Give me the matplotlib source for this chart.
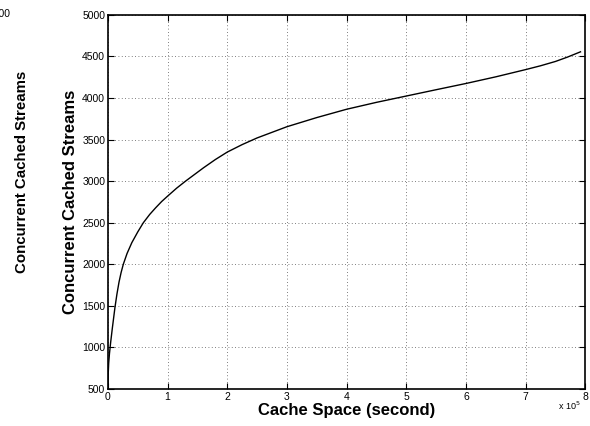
import matplotlib.pyplot as plt
from matplotlib.ticker import FuncFormatter, MultipleLocator

plt.rcParams['font.family'] = ['Liberation Sans', 'DejaVu Sans']

# Cache size (seconds of video) vs number of streams served from cache
cache_space = [0, 400, 1200, 2500, 4500, 7300, 11700, 15000, 18500, 22000,
               25700, 32000, 40000, 50000, 59300, 70000, 80000, 90000,
               100000, 115000, 130000, 160000, 180000, 200000, 225000,
               250000, 300000, 350000, 400000, 450000, 500000, 550000,
               600000, 650000, 700000, 725000, 750000, 770000, 792000]
cached_streams = [500, 680, 810, 925, 1060, 1230, 1480, 1640, 1785, 1900,
                  2000, 2130, 2260, 2390, 2500, 2600, 2680, 2755,
                  2820, 2915, 3000, 3160, 3260, 3350, 3440,
                  3520, 3655, 3765, 3865, 3948, 4024, 4100,
                  4175, 4255, 4342, 4388, 4440, 4492, 4556]

fig = plt.figure(figsize=(5.9, 4.26), dpi=100)
ax = fig.add_axes([0.183, 0.087, 0.809, 0.878])

ax.plot(cache_space, cached_streams, color='black', linewidth=1.0)

ax.set_xlim(0, 800000)
ax.set_ylim(500, 5000)
ax.xaxis.set_major_locator(MultipleLocator(100000))
ax.yaxis.set_major_locator(MultipleLocator(500))
ax.xaxis.set_major_formatter(FuncFormatter(lambda v, p: f"{v / 1e5:g}"))

ax.grid(True, linestyle=(0, (1, 3)), color='#555555', linewidth=0.6)
ax.tick_params(direction='in', top=True, right=True, length=4, width=0.8,
               labelsize=7.5, pad=2)
for s in ax.spines.values():
    s.set_linewidth(1.2)

ax.set_xlabel('Cache Space (second)', fontsize=12, fontweight='bold', labelpad=1)
ax.set_ylabel('Concurrent Cached Streams', fontsize=12, fontweight='bold', labelpad=3)

# exponent for the x axis, matlab style
fig.text(0.945, 0.047, r'x 10$^5$', fontsize=6.5, ha='left', va='center')

# leftovers from the neighbouring figure on the page
fig.text(22 / 590, 1 - 172 / 426, 'Concurrent Cached Streams', rotation=90,
         fontsize=10.8, fontweight='bold', ha='center', va='center')
fig.text(11 / 590, 1 - 14 / 426, '5000', fontsize=7.5, ha='right', va='center')

fig.savefig('out.png', dpi=100)
